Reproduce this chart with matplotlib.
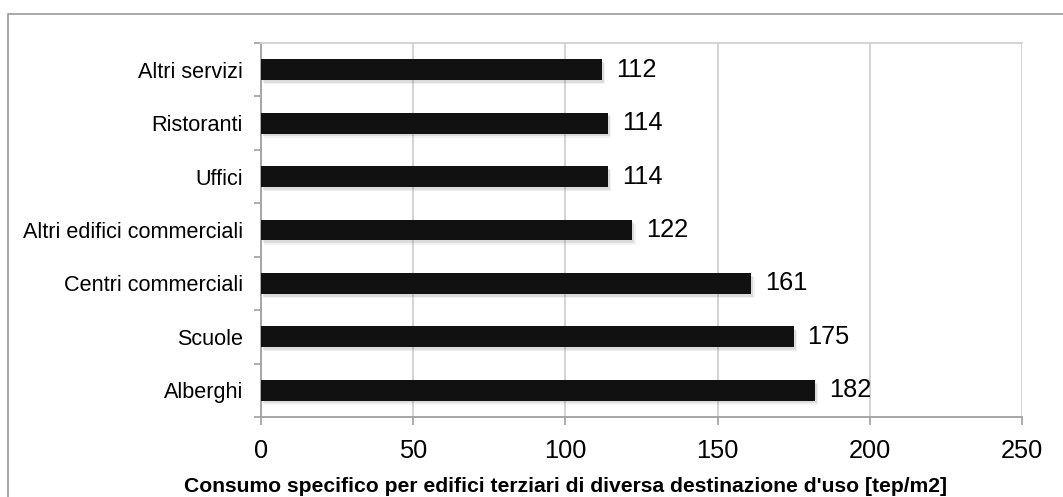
import matplotlib.pyplot as plt
from matplotlib.patches import Rectangle
from matplotlib import patheffects as pe
import numpy as np

plt.rcParams['font.family'] = ['Liberation Sans', 'DejaVu Sans']

# consumo specifico per destinazione d'uso (dall'alto verso il basso)
categorie = ['Altri servizi', 'Ristoranti', 'Uffici', 'Altri edifici commerciali',
             'Centri commerciali', 'Scuole', 'Alberghi']
valori = [112, 114, 114, 122, 161, 175, 182]
x_ticks = [0, 50, 100, 150, 200, 250]
titolo_x = "Consumo specifico per edifici terziari di diversa destinazione d'uso [tep/m2]"

fig = plt.figure(figsize=(10.63, 4.97), dpi=100)
ax = fig.add_axes([0.2455, 0.161, 0.7159, 0.7525])

# frame around the whole chart
fig.add_artist(Rectangle((8 / 1063, -0.05), 1.1, 1 - 14 / 497 + 0.05,
                         transform=fig.transFigure, fill=False,
                         edgecolor='#9a9a9a', linewidth=1.2, clip_on=False))

pos = np.arange(len(categorie))
# soft drop shadow under each bar
shadow = [pe.SimplePatchShadow(offset=(1.5, -2), shadow_rgbFace='#777777', alpha=0.18),
          pe.SimplePatchShadow(offset=(2.5, -3), shadow_rgbFace='#999999', alpha=0.12),
          pe.Normal()]
bars = ax.barh(pos, valori, height=0.39, color='#111111', zorder=3)
for b in bars:
    b.set_path_effects(shadow)

for p, v in zip(pos, valori):
    ax.annotate(str(v), xy=(v, p), xytext=(10, 0), textcoords='offset points',
                va='center', ha='left', fontsize=18.3, color='black', zorder=4)

ax.set_xlim(0, 250)
ax.set_ylim(len(categorie) - 0.5, -0.5)
ax.set_xticks(x_ticks)
ax.set_xticklabels([str(t) for t in x_ticks], fontsize=18.3)
ax.set_yticks(pos)
ax.set_yticklabels(categorie, fontsize=15.6)
ax.set_yticks(np.arange(len(categorie) + 1) - 0.5, minor=True)

ax.tick_params(axis='y', which='major', length=0, pad=13)
ax.tick_params(axis='y', which='minor', length=5, width=1.2, color='#a0a0a0')
ax.tick_params(axis='x', which='major', length=6, width=1.2, color='#a0a0a0', pad=10)

ax.grid(axis='x', color='#d0d0d0', linewidth=1.3, zorder=0)
ax.set_axisbelow(True)

for s in ['left', 'bottom']:
    ax.spines[s].set_color('#a0a0a0')
    ax.spines[s].set_linewidth(1.3)
ax.spines['top'].set_color('#d0d0d0')
ax.spines['top'].set_linewidth(1.3)
ax.spines['right'].set_visible(False)

fig.text(0.532, 0.010, titolo_x, ha='center', va='baseline',
         fontsize=15.2, fontweight='bold')

fig.savefig('out.png', dpi=100)
